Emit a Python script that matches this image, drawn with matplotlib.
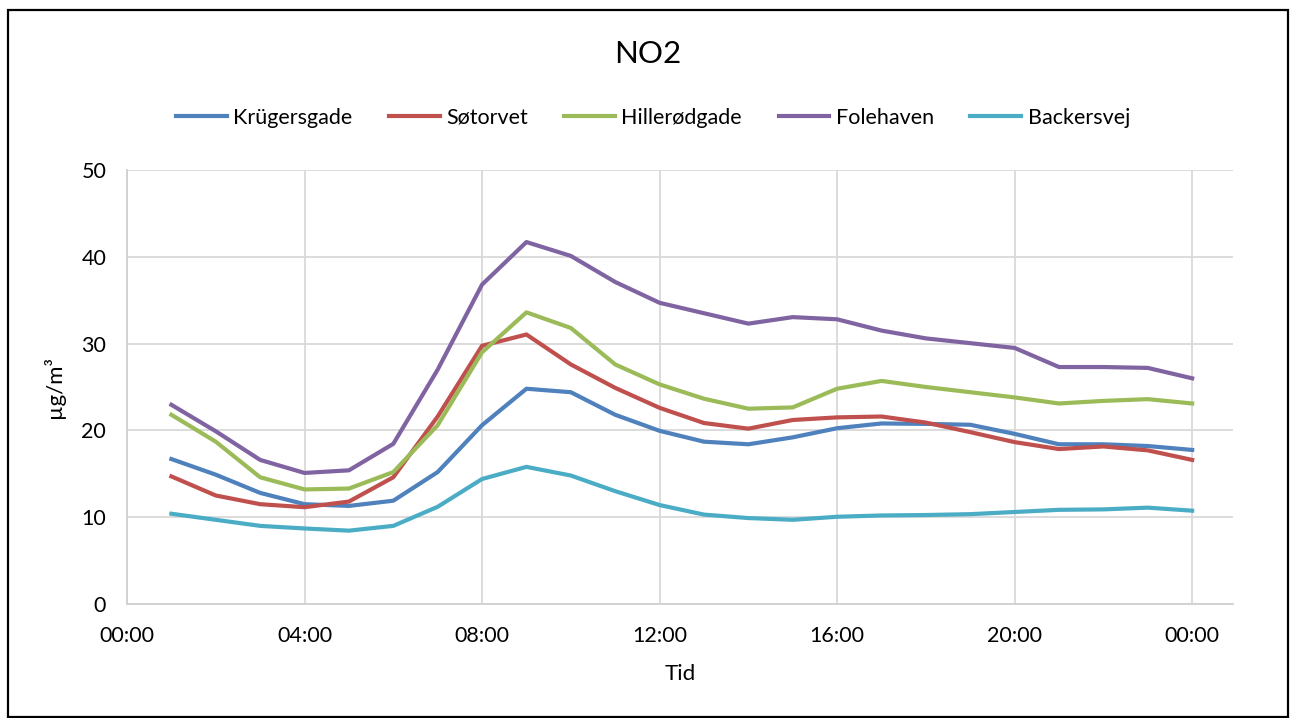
# -*- coding: utf-8 -*-

#%% Import required libraries
import matplotlib.pyplot as plt
from matplotlib.patches import Rectangle

#%% Data (hourly averages, hour 1..24)
hours = list(range(1, 25))
tick_hours = [0, 4, 8, 12, 16, 20, 24]
tick_labels = ['00:00', '04:00', '08:00', '12:00', '16:00', '20:00', '00:00']

kruegersgade = [16.7, 14.9, 12.8, 11.5, 11.3, 11.9, 15.2, 20.6, 24.8, 24.4, 21.8, 19.95,
                18.7, 18.4, 19.2, 20.25, 20.8, 20.75, 20.65, 19.6, 18.4, 18.4, 18.2, 17.75]
soetorvet = [14.7, 12.5, 11.5, 11.15, 11.8, 14.6, 21.6, 29.75, 31.05, 27.6, 24.9, 22.6,
             20.85, 20.2, 21.2, 21.5, 21.6, 20.9, 19.8, 18.65, 17.85, 18.15, 17.7, 16.6]
hilleroedgade = [21.8, 18.7, 14.6, 13.2, 13.3, 15.2, 20.6, 29.0, 33.6, 31.8, 27.6, 25.3,
                 23.65, 22.5, 22.65, 24.8, 25.7, 25.0, 24.4, 23.8, 23.1, 23.4, 23.6, 23.1]
folehaven = [22.95, 19.9, 16.6, 15.1, 15.4, 18.45, 27.0, 36.8, 41.7, 40.1, 37.1, 34.7,
             33.5, 32.3, 33.05, 32.8, 31.5, 30.6, 30.05, 29.5, 27.3, 27.3, 27.2, 26.0]
backersvej = [10.4, 9.7, 9.0, 8.7, 8.45, 9.0, 11.2, 14.4, 15.8, 14.8, 13.0, 11.4,
              10.3, 9.9, 9.7, 10.05, 10.2, 10.25, 10.35, 10.6, 10.85, 10.9, 11.1, 10.75]

series = [('Krügersgade', kruegersgade, '#4F81BD'),
          ('Søtorvet', soetorvet, '#C0504D'),
          ('Hillerødgade', hilleroedgade, '#9BBB59'),
          ('Folehaven', folehaven, '#8064A2'),
          ('Backersvej', backersvej, '#4BACC6')]

#%% Plot
plt.rcParams['font.family'] = ['Lato', 'DejaVu Sans']

fig = plt.figure(figsize=(12.92, 7.18), dpi=100)
ax = fig.add_axes([127/1292, 1-604/718, (1233-127)/1292, (604-170)/718])

for name, vals, col in series:
    ax.plot(hours, vals, color=col, lw=3.0, label=name, solid_joinstyle='round')

ax.set_xlim(0, 24.92)
ax.set_ylim(0, 50)
ax.set_xticks(tick_hours)
ax.set_xticklabels(tick_labels)
ax.set_yticks([0, 10, 20, 30, 40, 50])
ax.tick_params(axis='both', length=0, labelsize=15.5, colors='#000000')
ax.tick_params(axis='x', pad=16)
ax.tick_params(axis='y', pad=15)
ax.grid(True, color='#d9d9d9', lw=1.3)
ax.set_axisbelow(True)
for s in ['top', 'right']:
    ax.spines[s].set_visible(False)
for s in ['left', 'bottom']:
    ax.spines[s].set_color('#d0d0d0')
    ax.spines[s].set_linewidth(1.3)

ax.set_xlabel('Tid', fontsize=16, labelpad=13)
ax.set_ylabel('µg/m³', fontsize=16, labelpad=12)

fig.text(648/1292, 1-54/718, 'NO2', fontsize=22.5, ha='center', va='center')
fig.legend(loc='center', bbox_to_anchor=(653/1292, 1-118/718), ncol=5, frameon=False,
           fontsize=15.5, handlelength=2.35, handletextpad=0.3, columnspacing=1.7)

# outer frame
fig.patches.append(Rectangle((8/1292, 1-717/718), (1288-8)/1292, (717-10)/718,
                             transform=fig.transFigure, fill=False, ec='black', lw=1.6))

fig.savefig('out.png', dpi=100)
